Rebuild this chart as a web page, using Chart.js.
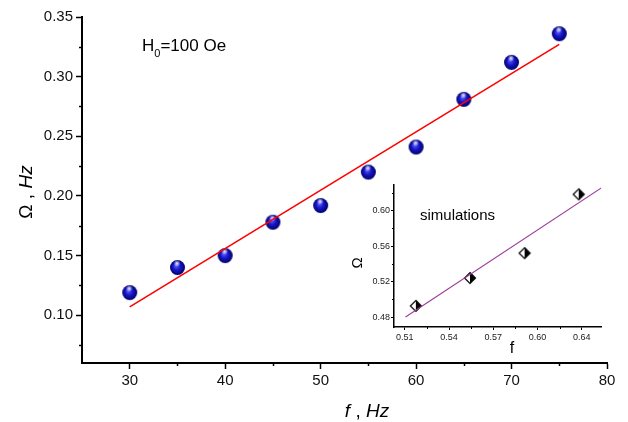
<!DOCTYPE html>
<html lang="en">
<head>
<meta charset="utf-8">
<script src="https://cdn.jsdelivr.net/npm/chart.js"></script>
<style>
  html, body { margin: 0; padding: 0; background: #fff; }
  #wrap { position: relative; width: 628px; height: 422px; }
  #mainChart { position: absolute; left: 0; top: 0; }
  #simChart { position: absolute; left: 340px; top: 170px; }
</style>
</head>
<body>
<div id="wrap">
  <canvas id="mainChart" width="628" height="422"></canvas>
  <canvas id="simChart" width="280" height="190"></canvas>
</div>
<script>
// main measurement, H0 = 100 Oe
const freqHz = [30, 35, 40, 45, 50, 55, 60, 65, 70, 75];
const omegaHz = [0.119, 0.140, 0.150, 0.178, 0.192, 0.220, 0.241, 0.281, 0.312, 0.336];
const fitFreq = [30, 75];
const fitOmega = [0.107, 0.327];
const xTicks = [30, 40, 50, 60, 70, 80];
const xMinor = [35, 45, 55, 65, 75];
const yTicks = [0.10, 0.15, 0.20, 0.25, 0.30, 0.35];
const yMinor = [0.075, 0.125, 0.175, 0.225, 0.275, 0.325];

// inset: simulations
const simF = [0.5175, 0.5542, 0.5912, 0.6279];
const simOmega = [0.4928, 0.5242, 0.5522, 0.6185];
const simFitF = [0.5105, 0.6445];
const simFitOmega = [0.4803, 0.6272];
const simXTicks = [0.51, 0.54, 0.57, 0.60, 0.63];
const simXLabels = ['0.51', '0.54', '0.57', '0.60', '0.64'];
const simXMinor = [0.525, 0.555, 0.585, 0.615];
const simYTicks = [0.48, 0.52, 0.56, 0.60];
const simYMinor = [0.50, 0.54, 0.58, 0.62];

const toPts = (xs, ys) => xs.map((x, i) => ({ x: x, y: ys[i] }));

// blue glossy ball marker
function makeBall(r) {
  const c = document.createElement('canvas');
  c.width = c.height = r * 2 + 2;
  const g = c.getContext('2d');
  const cx = r + 1, cy = r + 1;
  const grad = g.createRadialGradient(cx - 1.5, cy - 2, 0.5, cx, cy, r);
  grad.addColorStop(0, '#5a5aff');
  grad.addColorStop(0.45, '#1818c8');
  grad.addColorStop(1, '#00006a');
  g.fillStyle = grad;
  g.beginPath(); g.arc(cx, cy, r, 0, Math.PI * 2); g.fill();
  const hl = g.createRadialGradient(cx - 0.5, cy - r * 0.55, 0, cx - 0.5, cy - r * 0.55, r * 0.45);
  hl.addColorStop(0, 'rgba(255,255,255,0.95)');
  hl.addColorStop(1, 'rgba(255,255,255,0)');
  g.fillStyle = hl;
  g.beginPath(); g.arc(cx - 0.5, cy - r * 0.55, r * 0.45, 0, Math.PI * 2); g.fill();
  return c;
}

// half filled diamond marker (left open, right black)
function makeDiamond(h) {
  const c = document.createElement('canvas');
  c.width = c.height = h * 2 + 3;
  const g = c.getContext('2d');
  const cx = h + 1.5, cy = h + 1.5;
  g.fillStyle = '#fff';
  g.beginPath(); g.moveTo(cx, cy - h); g.lineTo(cx - h, cy); g.lineTo(cx, cy + h); g.closePath(); g.fill();
  g.fillStyle = '#000';
  g.beginPath(); g.moveTo(cx, cy - h); g.lineTo(cx + h, cy); g.lineTo(cx, cy + h); g.closePath(); g.fill();
  g.strokeStyle = '#000';
  g.lineWidth = 1.2;
  g.beginPath(); g.moveTo(cx, cy - h); g.lineTo(cx + h, cy); g.lineTo(cx, cy + h); g.lineTo(cx - h, cy); g.closePath(); g.stroke();
  return c;
}

// short minor ticks, outward
const minorTicks = {
  id: 'minorTicks',
  afterDraw(chart, args, opts) {
    const ctx = chart.ctx, a = chart.chartArea;
    const sx = chart.scales.x, sy = chart.scales.y;
    ctx.save();
    ctx.strokeStyle = '#000';
    ctx.lineWidth = opts.width;
    opts.x.forEach(v => {
      const px = Math.round(sx.getPixelForValue(v)) + 0.5;
      ctx.beginPath(); ctx.moveTo(px, a.bottom); ctx.lineTo(px, a.bottom + opts.len); ctx.stroke();
    });
    opts.y.forEach(v => {
      const py = Math.round(sy.getPixelForValue(v)) + 0.5;
      ctx.beginPath(); ctx.moveTo(a.left, py); ctx.lineTo(a.left - opts.len, py); ctx.stroke();
    });
    ctx.restore();
  }
};

// free text: titles and notes
const labelsPlugin = {
  id: 'labelsText',
  afterDraw(chart, args, opts) {
    const ctx = chart.ctx;
    ctx.save();
    ctx.fillStyle = '#000';
    opts.items.forEach(it => {
      ctx.save();
      ctx.translate(it.x, it.y);
      if (it.rot) ctx.rotate(it.rot);
      ctx.textBaseline = 'alphabetic';
      let w = 0;
      it.parts.forEach(p => { ctx.font = p.font; w += ctx.measureText(p.t).width; });
      let x = it.align === 'center' ? -w / 2 : 0;
      it.parts.forEach(p => {
        ctx.font = p.font;
        ctx.fillText(p.t, x, p.dy || 0);
        x += ctx.measureText(p.t).width;
      });
      ctx.restore();
    });
    ctx.restore();
  }
};

const F = '"Liberation Sans", Arial, sans-serif';

new Chart(document.getElementById('mainChart'), {
  type: 'scatter',
  data: {
    datasets: [
      {
        type: 'line',
        data: toPts(fitFreq, fitOmega),
        borderColor: '#ff0000',
        borderWidth: 1.6,
        pointRadius: 0,
        fill: false
      },
      {
        data: toPts(freqHz, omegaHz),
        pointStyle: makeBall(7.5),
        pointRadius: 7.5
      }
    ]
  },
  options: {
    responsive: false,
    animation: false,
    events: [],
    layout: { padding: { left: 0, top: 17, right: 21, bottom: 0 } },
    plugins: {
      legend: { display: false },
      tooltip: { enabled: false },
      minorTicks: { x: xMinor, y: yMinor, len: 3, width: 1.5 },
      labelsText: {
        items: [
          { x: 142, y: 51, parts: [
            { t: 'H', font: '17px ' + F },
            { t: '0', font: '11px ' + F, dy: 6 },
            { t: '=100 Oe', font: '17px ' + F }
          ] },
          { x: 367, y: 417, align: 'center', parts: [
            { t: 'f', font: 'italic 19px ' + F },
            { t: ' , ', font: '19px ' + F },
            { t: 'Hz', font: 'italic 19px ' + F }
          ] },
          { x: 32, y: 192, rot: -Math.PI / 2, align: 'center', parts: [
            { t: 'Ω', font: '19px ' + F },
            { t: ' , ', font: '19px ' + F },
            { t: 'Hz', font: 'italic 19px ' + F }
          ] }
        ]
      }
    },
    scales: {
      x: {
        type: 'linear', min: 25, max: 80,
        afterBuildTicks: s => { s.ticks = xTicks.map(v => ({ value: v })); },
        afterFit: s => { s.height = 59; },
        grid: { drawOnChartArea: false, drawTicks: true, tickLength: 6, tickColor: '#000', tickWidth: 1.5 },
        border: { color: '#000', width: 2 },
        ticks: { color: '#111', font: { family: F, size: 15 }, padding: 3, callback: v => String(v) }
      },
      y: {
        type: 'linear', min: 0.06, max: 0.35,
        afterBuildTicks: s => { s.ticks = yTicks.map(v => ({ value: v })); },
        afterFit: s => { s.width = 82; },
        grid: { drawOnChartArea: false, drawTicks: true, tickLength: 6, tickColor: '#000', tickWidth: 1.5 },
        border: { color: '#000', width: 2 },
        ticks: { color: '#111', font: { family: F, size: 15 }, padding: 3, callback: v => v.toFixed(2) }
      }
    }
  },
  plugins: [minorTicks, labelsPlugin]
});

new Chart(document.getElementById('simChart'), {
  type: 'scatter',
  data: {
    datasets: [
      {
        type: 'line',
        data: toPts(simFitF, simFitOmega),
        borderColor: '#9a3c9a',
        borderWidth: 1.1,
        pointRadius: 0,
        fill: false
      },
      {
        data: toPts(simF, simOmega),
        pointStyle: makeDiamond(5.5),
        pointRadius: 6
      }
    ]
  },
  options: {
    responsive: false,
    animation: false,
    events: [],
    layout: { padding: { left: 0, top: 15, right: 19, bottom: 0 } },
    plugins: {
      legend: { display: false },
      tooltip: { enabled: false },
      minorTicks: { x: simXMinor, y: simYMinor, len: 2, width: 1 },
      labelsText: {
        items: [
          { x: 80, y: 50, parts: [{ t: 'simulations', font: '15px ' + F }] },
          { x: 172, y: 183, align: 'center', parts: [{ t: 'f', font: '16px ' + F }] },
          { x: 22, y: 93, rot: -Math.PI / 2, align: 'center', parts: [{ t: 'Ω', font: '15px ' + F }] }
        ]
      }
    },
    scales: {
      x: {
        type: 'linear', min: 0.5027, max: 0.643,
        afterBuildTicks: s => { s.ticks = simXTicks.map(v => ({ value: v })); },
        afterFit: s => { s.height = 33; },
        grid: { drawOnChartArea: false, drawTicks: true, tickLength: 3, tickColor: '#000', tickWidth: 1 },
        border: { color: '#000', width: 1.5 },
        ticks: { color: '#222', font: { family: F, size: 9 }, padding: 2,
                 callback: (v, i) => simXLabels[i] }
      },
      y: {
        type: 'linear', min: 0.469, max: 0.629,
        afterBuildTicks: s => { s.ticks = simYTicks.map(v => ({ value: v })); },
        afterFit: s => { s.width = 54; },
        grid: { drawOnChartArea: false, drawTicks: true, tickLength: 3, tickColor: '#000', tickWidth: 1 },
        border: { color: '#000', width: 1.5 },
        ticks: { color: '#222', font: { family: F, size: 9 }, padding: 1, callback: v => v.toFixed(2) }
      }
    }
  },
  plugins: [minorTicks, labelsPlugin]
});
</script>
</body>
</html>
